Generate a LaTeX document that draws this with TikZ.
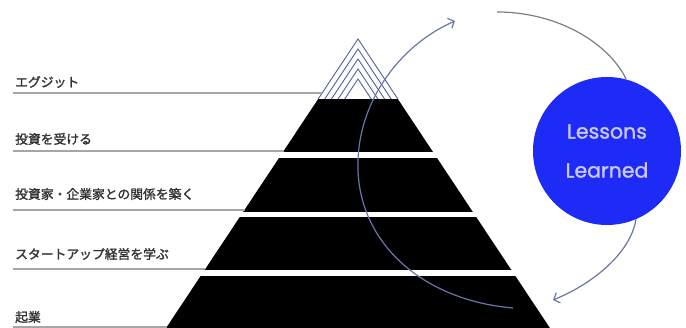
\documentclass[tikz,border=0pt]{standalone}
\usepackage{fontspec}
\newfontfamily\jpfont[RawFeature={embolden=1.6}]{Noto Sans CJK JP}
\newfontfamily\lsfont[RawFeature={embolden=1.4}]{Poppins}
\usetikzlibrary{arrows.meta}
\definecolor{lessonblue}{RGB}{30,42,245}
\definecolor{lessontext}{RGB}{200,200,250}
\definecolor{looparrow}{RGB}{105,118,170}
\definecolor{hatchblue}{RGB}{80,95,160}

\begin{document}
\begin{tikzpicture}[x=1pt, y=-1pt,
  every node/.style={font=\jpfont\fontsize{12.8}{15}\selectfont},
  label line/.style={gray!70, line width=1.1pt},
  stage/.style={anchor=west, text=black!80, inner sep=0pt},
  loop arrow/.style={looparrow, line width=1.2pt, -{Straight Barb[length=5pt,width=11pt]}}]
  \useasboundingbox (0,0) rectangle (686,328);
  % pyramid tiers
  \begin{scope}
    \clip (358,39) -- (166.1,328) -- (549.9,328) -- cycle;
    \foreach \t/\b in {99/152,158/212,217/270,276/328}
      \fill[black] (150,\t) rectangle (570,\b);
  \end{scope}
  % hatched peak
  \foreach \a in {39,49,59,69,79}
    \draw[hatchblue, line width=0.9pt] ({358-0.664*(99-\a)},99) -- (358,\a) -- ({358+0.664*(99-\a)},99);
  % label lines
  \foreach \y/\xe in {93/322,151/283.6,210/244.5,269/205.3,327/166.8}
    \draw[label line] (13,\y) -- (\xe,\y);
  \node[stage] (exit) at (15,82) {エグジット};
  \node[stage] (invest) at (15,139) {投資を受ける};
  \node[stage] (relation) at (15,194) {投資家・企業家との関係を築く};
  \node[stage] (learn) at (15,254) {スタートアップ経営を学ぶ};
  \node[stage] (found) at (15,317) {起業};
  \node[circle, fill=lessonblue, minimum size=148pt, inner sep=0pt, align=center,
        text=lessontext, font=\lsfont\fontsize{20.5}{39}\selectfont] (lessons) at (607,151) {Lessons\\Learned};
  % loop
  \coordinate (loopstart) at (513,308);
  \coordinate (looptip) at (455,21);
  \coordinate (arcstart) at (497,12);
  \coordinate (backtip) at (553,300);
  \draw[loop arrow] (loopstart) .. controls (420,300) and (355,240) .. (358,160)
    .. controls (360,100) and (400,45) .. (looptip);
  \draw[gray!80!looparrow, line width=1.2pt] (arcstart) .. controls (560,12) and (610,45) .. (lessons.75);
  \draw[loop arrow] (lessons.-67) .. controls (630,255) and (590,285) .. (backtip);
\end{tikzpicture}
\end{document}
